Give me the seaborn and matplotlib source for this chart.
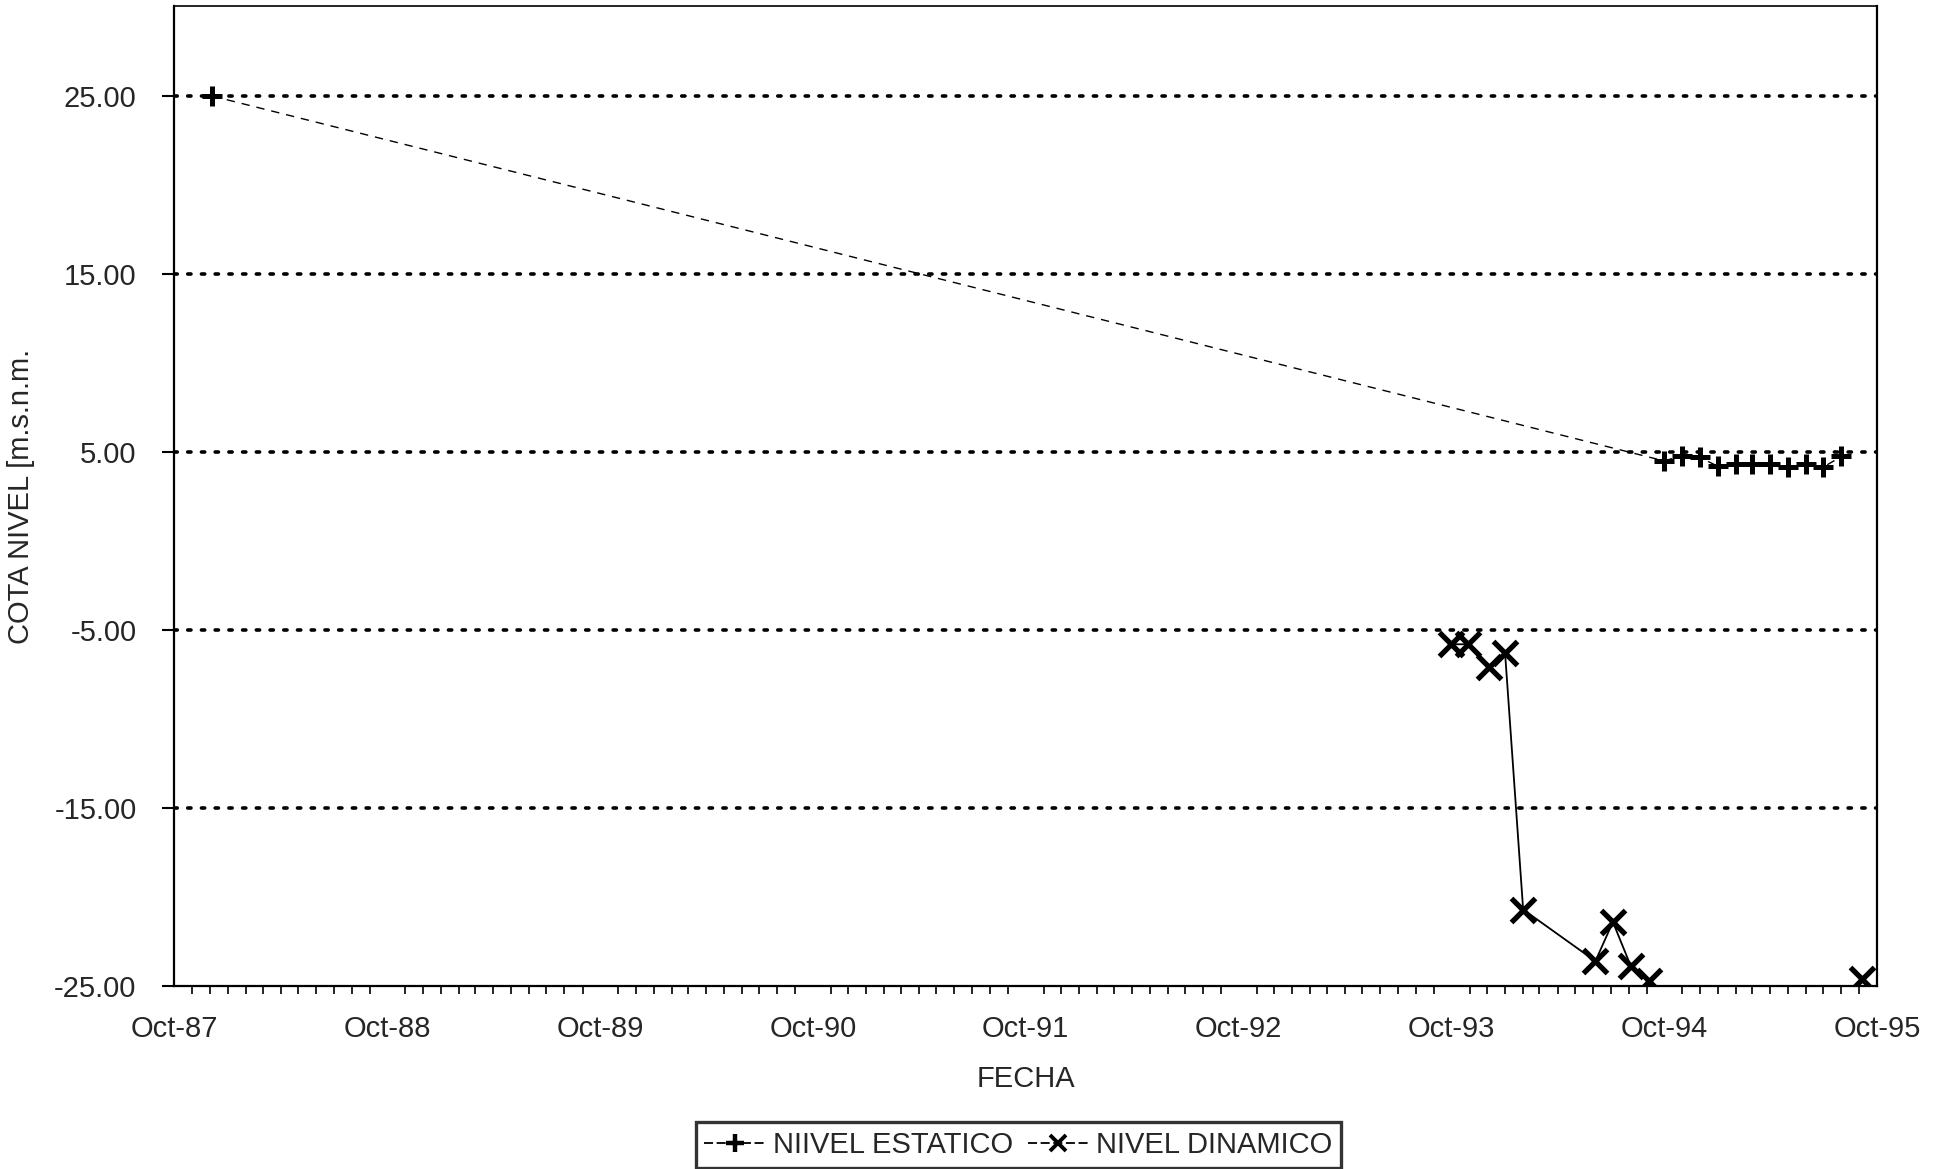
import numpy as np
import pandas as pd
import matplotlib
matplotlib.use("Agg")
import matplotlib.pyplot as plt
import matplotlib.dates as mdates
from matplotlib.lines import Line2D
import seaborn as sns

# Static water level readings
estatico_fechas = ["1987-12-05", "1994-10-01", "1994-11-01", "1994-12-01", "1995-01-01",
                   "1995-02-01", "1995-03-01", "1995-04-01", "1995-05-01", "1995-06-01",
                   "1995-07-01", "1995-08-01"]
estatico_cota = [25.0, 4.5, 4.8, 4.7, 4.2, 4.3, 4.3, 4.35, 4.15, 4.35, 4.15, 4.75]

# Dynamic (pumping) water level readings; tramo marks the continuous stretches
dinamico_fechas = ["1993-10-01", "1993-10-29", "1993-12-05", "1994-01-01", "1994-02-01",
                   "1994-06-05", "1994-07-05", "1994-08-05", "1994-09-05", "1995-09-05"]
dinamico_cota = [-5.8, -5.8, -7.05, -6.3, -20.7, -23.6, -21.4, -23.9, -24.7, -24.6]
dinamico_tramo = [0, 0, 0, 0, 0, 0, 0, 0, 0, 1]

y_ticks = [-25, -15, -5, 5, 15, 25]

est = pd.DataFrame({"fecha": pd.to_datetime(estatico_fechas), "cota": estatico_cota})
din = pd.DataFrame({"fecha": pd.to_datetime(dinamico_fechas), "cota": dinamico_cota,
                    "tramo": dinamico_tramo})

sns.set_theme(style="white")
plt.rcParams["font.family"] = ["Liberation Sans", "DejaVu Sans"]

FS = 21

fig = plt.figure(figsize=(19.49, 11.69), dpi=100)
ax = fig.add_axes([0.0893, 0.1565, 0.8737, 0.8383])

# horizontal dotted grid
for v in y_ticks[1:]:
    ax.axhline(v, color="black", lw=2.6, linestyle=(0, (0.9, 2.9)),
               dash_capstyle="round", zorder=1)

sns.lineplot(data=est, x="fecha", y="cota", ax=ax, color="black", lw=1.0,
             linestyle=(0, (6, 5)), marker="+", markersize=15, markeredgewidth=3.6,
             markeredgecolor="black", estimator=None, zorder=3)
sns.lineplot(data=din, x="fecha", y="cota", units="tramo", ax=ax, color="black",
             lw=1.3, marker="x", markersize=17, markeredgewidth=3.8,
             markeredgecolor="black", estimator=None, zorder=3)

ax.set_xlim(pd.Timestamp("1987-10-01"), pd.Timestamp("1995-10-01"))
ax.set_ylim(-25, 30.05)
ax.set_yticks(y_ticks)
ax.yaxis.set_major_formatter(matplotlib.ticker.FormatStrFormatter("%.2f"))

ax.xaxis.set_major_locator(mdates.MonthLocator(bymonth=10))
ax.xaxis.set_minor_locator(mdates.MonthLocator())
ax.xaxis.set_major_formatter(mdates.DateFormatter("%b-%y"))

ax.tick_params(axis="x", which="major", direction="in", length=12, width=1.5,
               pad=21, labelsize=FS, color="black")
ax.tick_params(axis="x", which="minor", direction="out", length=6, width=1.2,
               color="black", bottom=True)
ax.tick_params(axis="y", which="major", direction="out", length=9, width=1.5,
               pad=18, labelsize=FS, color="black", left=True)

for side, s in ax.spines.items():
    s.set_color("black")
    s.set_linewidth(1.6)
ax.spines["top"].set_linewidth(1.2)

ax.set_xlabel("FECHA", fontsize=FS, labelpad=16)
ax.set_ylabel("COTA NIVEL [m.s.n.m.", fontsize=FS, labelpad=14)
ax.grid(False)

handles = [
    Line2D([], [], color="black", lw=1.3, linestyle=(0, (5, 2)), marker="+",
           markersize=13, markeredgewidth=3.2),
    Line2D([], [], color="black", lw=1.3, linestyle=(0, (5, 2)), marker="x",
           markersize=11, markeredgewidth=2.8),
]
leg = fig.legend(handles, ["NIIVEL ESTATICO", "NIVEL DINAMICO"], loc="center",
                 bbox_to_anchor=(0.5225, 0.0205), ncol=2, fontsize=FS, frameon=True,
                 fancybox=False, edgecolor="black", handlelength=2.1,
                 handletextpad=0.25, columnspacing=0.5, borderpad=0.3)
leg.get_frame().set_linewidth(2.4)

fig.savefig("out.png", dpi=100, facecolor="white")
